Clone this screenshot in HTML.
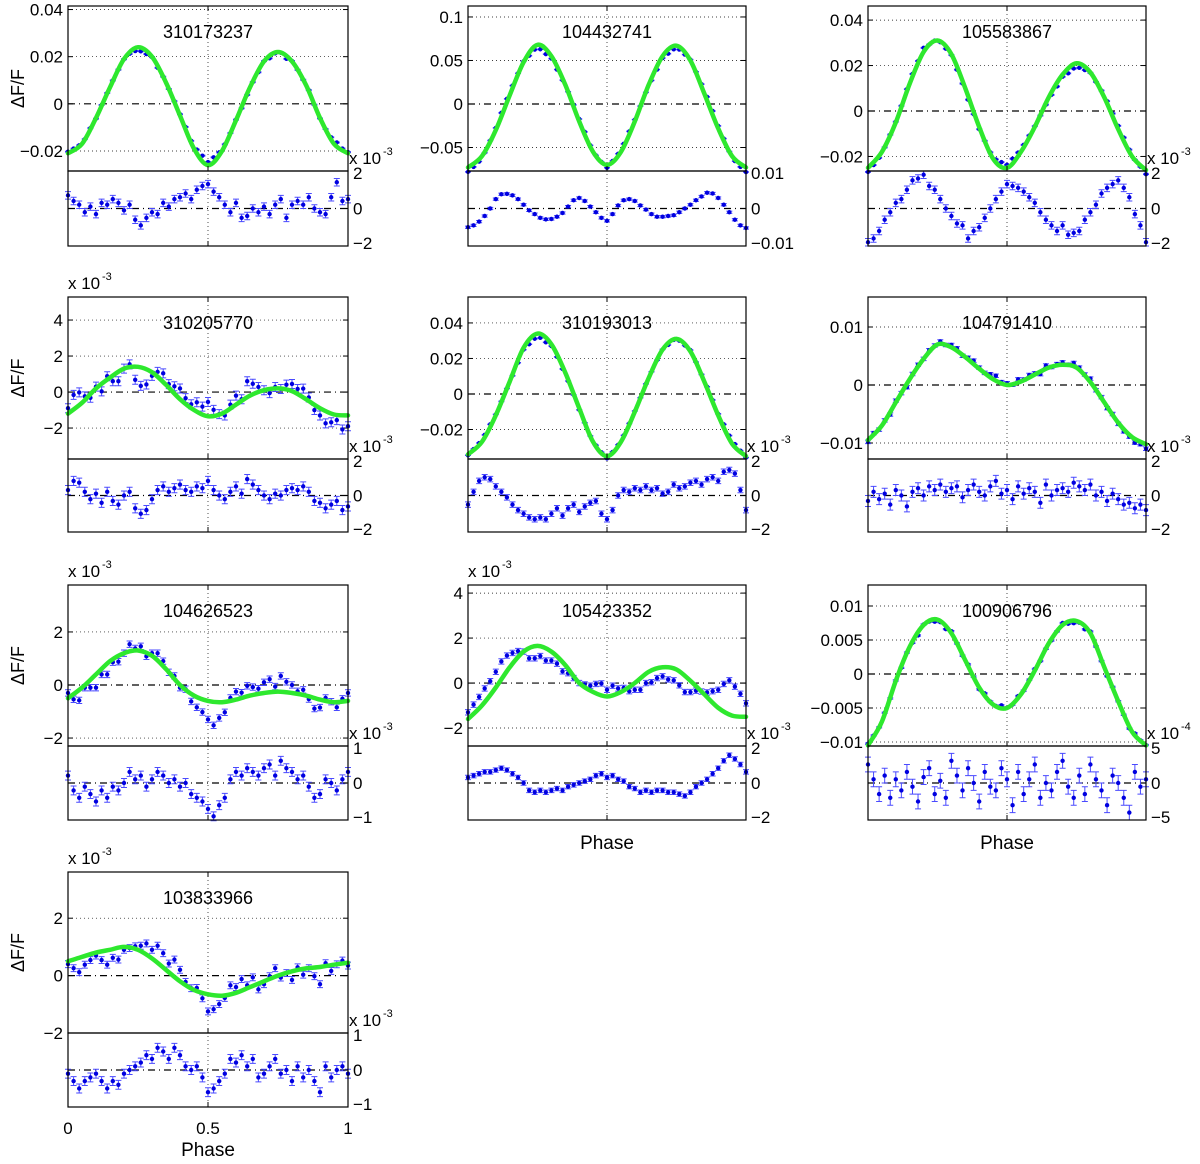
<!DOCTYPE html>
<html><head><meta charset="utf-8"><style>
html,body{margin:0;padding:0;background:#fff;}
svg text{font-family:"Liberation Sans",sans-serif;fill:#000;}
</style></head><body>
<svg id="fig" width="1200" height="1159" viewBox="0 0 1200 1159" xmlns="http://www.w3.org/2000/svg"></svg>
<script>
// ---- data ----
const titles = ["310173237","104432741","105583867","310205770","310193013","104791410","104626523","105423352","100906796","103833966"];
// fit values at phase 0,0.05,...,1 (displayed top-axis units)
const fit1 = [-0.021,-0.017,-0.006,0.007,0.019,0.024,0.020,0.009,-0.005,-0.019,-0.026,-0.020,-0.007,0.007,0.018,0.022,0.018,0.008,-0.006,-0.017,-0.021];
const fit2 = [-0.073,-0.06,-0.03,0.01,0.048,0.068,0.055,0.022,-0.02,-0.055,-0.07,-0.055,-0.02,0.022,0.055,0.067,0.05,0.012,-0.028,-0.06,-0.073];
const fit3 = [-0.025,-0.018,-0.005,0.012,0.026,0.031,0.025,0.01,-0.007,-0.021,-0.025,-0.018,-0.007,0.006,0.016,0.021,0.017,0.006,-0.008,-0.02,-0.026];
const fit4 = [-1.2,-0.6,0.2,0.8,1.3,1.4,1.1,0.4,-0.4,-1.0,-1.35,-1.2,-0.7,-0.2,0.1,0.2,0.05,-0.4,-0.9,-1.25,-1.3];
const fit5 = [-0.034,-0.027,-0.012,0.007,0.026,0.034,0.028,0.012,-0.008,-0.027,-0.035,-0.027,-0.01,0.009,0.025,0.031,0.024,0.007,-0.012,-0.028,-0.035];
const fit6 = [-0.0095,-0.007,-0.003,0.001,0.0045,0.007,0.0065,0.0048,0.0028,0.001,0.0,0.0006,0.0018,0.003,0.0035,0.003,0.0005,-0.003,-0.0065,-0.009,-0.0102];
const fit7 = [-0.5,-0.1,0.4,0.9,1.2,1.3,1.1,0.6,0.0,-0.4,-0.6,-0.65,-0.55,-0.4,-0.3,-0.25,-0.3,-0.4,-0.55,-0.65,-0.6];
const fit8 = [-1.6,-1.0,-0.2,0.7,1.4,1.65,1.4,0.8,0.0,-0.4,-0.6,-0.4,0.0,0.5,0.7,0.6,0.1,-0.5,-1.1,-1.45,-1.5];
const fit9 = [-0.0105,-0.007,-0.001,0.004,0.0072,0.008,0.006,0.002,-0.002,-0.0045,-0.005,-0.003,0.0005,0.0045,0.0072,0.0078,0.006,0.001,-0.004,-0.0085,-0.0105];
const fit10 = [0.5,0.65,0.8,0.9,1.0,0.9,0.6,0.2,-0.2,-0.5,-0.65,-0.7,-0.6,-0.4,-0.2,0.0,0.15,0.25,0.3,0.38,0.45];
// residuals at phase 0,0.02,...,1 (displayed residual-axis units)
const res1 = [0.7,0.4,0.2,-0.2,0.1,-0.3,0.3,0.2,0.5,0.3,-0.1,0.2,-0.6,-0.9,-0.5,-0.2,-0.3,0.3,0.1,0.5,0.6,0.8,0.5,1.0,1.2,1.3,0.9,0.6,0.2,-0.2,0.3,-0.5,-0.4,0.0,-0.2,0.1,-0.3,0.2,0.5,-0.5,0.2,0.4,0.2,0.6,0.0,-0.2,-0.3,0.6,1.4,0.4,0.5];
const res2 = [-5.0,-4.5,-3.5,-2,0,2.5,3.8,3.9,3.5,2.5,1,-0.5,-1.5,-2.5,-2.9,-2.8,-2.2,-1.2,0.5,2.2,2.8,2,0.5,-1,-2.5,-3.3,-1.5,0.8,2.2,2.5,2,0.8,-0.3,-1.5,-2.2,-2.2,-2,-1.8,-1,0,1,2.2,3.2,4.2,4,2.8,1,-1,-3,-4.5,-5.2];
const res3 = [-1.8,-1.6,-1.2,-0.6,-0.2,0.3,0.5,1.0,1.5,1.6,1.8,1.2,1.0,0.5,0.0,-0.4,-0.8,-0.9,-1.6,-1.2,-1.0,-0.5,0.0,0.5,0.9,1.3,1.2,1.1,0.9,0.6,0.3,-0.2,-0.6,-0.9,-1.2,-0.9,-1.4,-1.3,-1.2,-0.6,-0.2,0.2,0.8,1.1,1.3,1.5,1.1,0.6,-0.3,-0.9,-1.8];
const res4 = [0.3,0.8,0.7,0.2,-0.2,0.1,-0.4,0.2,-0.3,-0.5,0.0,0.2,-0.7,-1.0,-0.8,-0.2,0.3,0.5,0.2,0.4,0.6,0.3,0.2,0.5,0.4,0.8,0.3,0.0,-0.2,0.2,0.5,0.1,0.9,0.6,0.3,0.0,-0.2,0.1,0.0,0.3,0.4,0.3,0.5,0.2,-0.3,-0.4,-0.7,-0.5,-0.3,-0.8,-0.6];
const res5 = [-0.5,0.2,0.8,1.0,0.9,0.5,0.2,-0.1,-0.5,-0.8,-1.0,-1.2,-1.3,-1.2,-1.3,-1.0,-0.7,-1.1,-0.7,-0.5,-0.9,-0.6,-0.4,-0.3,-1.0,-1.3,-0.8,0.0,0.3,0.2,0.4,0.3,0.5,0.3,0.4,0.1,0.2,0.6,0.4,0.5,0.7,0.8,0.6,0.9,1.0,0.8,1.3,1.4,1.2,0.3,-0.8];
const res6 = [-0.3,0.2,-0.2,0.1,-0.5,0.3,0.0,-0.6,0.2,0.4,0.0,0.5,0.3,0.6,0.2,0.4,0.5,-0.1,0.3,0.6,0.2,0.0,0.5,0.8,0.1,0.3,-0.2,0.5,0.1,0.4,0.2,-0.4,0.6,0.0,0.3,0.4,0.2,0.7,0.5,0.3,0.6,0.0,0.2,-0.3,0.1,-0.2,-0.5,-0.4,-0.7,-0.5,-0.8];
const res7 = [0.2,-0.2,-0.4,-0.1,-0.3,-0.5,-0.2,-0.4,-0.1,-0.2,0.0,0.3,0.1,0.2,-0.1,0.1,0.3,0.2,0.0,0.1,-0.1,0.0,-0.3,-0.4,-0.5,-0.7,-0.9,-0.6,-0.4,0.1,0.3,0.2,0.4,0.3,0.2,0.4,0.5,0.2,0.6,0.4,0.3,0.1,0.2,-0.1,-0.4,-0.3,0.1,0.0,-0.2,0.1,0.3];
const res8 = [0.3,0.4,0.5,0.6,0.6,0.7,0.8,0.7,0.5,0.3,0.0,-0.4,-0.5,-0.4,-0.5,-0.4,-0.3,-0.4,-0.2,-0.1,0.0,0.1,0.2,0.4,0.5,0.3,0.4,0.2,0.1,-0.2,-0.3,-0.5,-0.4,-0.5,-0.4,-0.4,-0.5,-0.5,-0.6,-0.7,-0.5,-0.2,0.0,0.2,0.5,0.8,1.2,1.5,1.3,1.0,0.6];
const res9 = [2.5,0.5,-1.5,1.0,-2.0,0.5,-1.0,1.5,-0.5,-2.5,0.8,2.0,-1.5,0.3,-2.0,3.0,1.0,-1.0,2.0,0.0,-2.5,1.5,-0.5,-1.0,2.0,0.5,-3.0,1.5,-1.5,0.5,2.5,-2.0,0.0,-1.0,1.5,3.0,-0.5,-2.0,1.0,-1.5,2.5,0.5,-1.0,-3.0,1.0,0.0,-2.0,-4.0,1.5,-0.5,0.5];
const res10 = [-0.1,-0.3,-0.5,-0.3,-0.2,-0.1,-0.3,-0.5,-0.3,-0.4,-0.1,0.0,0.1,0.2,0.4,0.3,0.6,0.5,0.3,0.6,0.4,0.1,0.0,0.1,-0.2,-0.6,-0.5,-0.3,-0.1,0.3,0.2,0.4,0.1,0.3,-0.2,-0.1,0.1,0.3,-0.1,0.0,-0.3,0.1,-0.2,0.0,-0.3,-0.6,0.1,-0.2,0.0,0.1,-0.1];
const fits = [fit1,fit2,fit3,fit4,fit5,fit6,fit7,fit8,fit9,fit10];
const resids = [res1,res2,res3,res4,res5,res6,res7,res8,res9,res10];
// axis ranges
const topMin = [-0.0285,-0.077,-0.0264,-3.72,-0.0366,-0.01276,-2.30,-2.8,-0.01059,-2.0];
const topMax = [0.0415,0.1126,0.0462,5.28,0.0546,0.01517,3.77,4.36,0.01309,3.61];
const topTicks = [[-0.02,0,0.02,0.04],[-0.05,0,0.05,0.1],[-0.02,0,0.02,0.04],[-2,0,2,4],[-0.02,0,0.02,0.04],[-0.01,0,0.01],[-2,0,2],[-2,0,2,4],[-0.01,-0.005,0,0.005,0.01],[-2,0,2]];
const topTickLabels = [["−0.02","0","0.02","0.04"],["−0.05","0","0.05","0.1"],["−0.02","0","0.02","0.04"],["−2","0","2","4"],["−0.02","0","0.02","0.04"],["−0.01","0","0.01"],["−2","0","2"],["−2","0","2","4"],["−0.01","−0.005","0","0.005","0.01"],["−2","0","2"]];
const topScale = [1,1,1,1e-3,1,1,1e-3,1e-3,1,1e-3];
const resLim = [2,10,2,2,2,2,1,2,5,1];
const resScale = [1e-3,1e-3,1e-3,1e-3,1e-3,1e-3,1e-3,1e-3,1e-4,1e-3];
const resTickLabels = [["−2","0","2"],["−0.01","0","0.01"],["−2","0","2"],["−2","0","2"],["−2","0","2"],["−2","0","2"],["−1","0","1"],["−2","0","2"],["−5","0","5"],["−1","0","1"]];
const resExp = ["-3","","-3","-3","-3","-3","-3","-3","-4","-3"];
const topExp = ["","","","-3","","","-3","-3","","-3"];
const errBar = [0.2,0.3,0.2,0.25,0.15,0.3,0.12,0.12,1.0,0.12];
const xTicks = [0,0.5,1];
const xTickLabels = ["0","0.5","1"];

// ---- layout ----
const colX = [[68,348],[468,746],[868,1146]];
const rowY = [[6,171,246],[297,459,532],[585,746,820],[872,1033,1107]];
const svg = document.getElementById('fig');
const NS = "http://www.w3.org/2000/svg";
function mk(tag, attrs, parent){const e=document.createElementNS(NS,tag);for(const k in attrs)e.setAttribute(k,attrs[k]);(parent||svg).appendChild(e);return e;}
function txt(s,x,y,size,anchor,parent){const t=mk('text',{x:x,y:y,'font-size':size,'text-anchor':anchor||'start'},parent);t.textContent=s;return t;}
function catmull(pts){let d='M'+pts[0][0].toFixed(1)+','+pts[0][1].toFixed(1);for(let i=0;i<pts.length-1;i++){const p0=pts[Math.max(0,i-1)],p1=pts[i],p2=pts[i+1],p3=pts[Math.min(pts.length-1,i+2)];const c1=[p1[0]+(p2[0]-p0[0])/6,p1[1]+(p2[1]-p0[1])/6],c2=[p2[0]-(p3[0]-p1[0])/6,p2[1]-(p3[1]-p1[1])/6];d+=' C'+c1[0].toFixed(1)+','+c1[1].toFixed(1)+' '+c2[0].toFixed(1)+','+c2[1].toFixed(1)+' '+p2[0].toFixed(1)+','+p2[1].toFixed(1);}return d;}
function fitAt(f,ph){const pos=ph*(f.length-1);const i=Math.min(f.length-2,Math.floor(pos));const t=pos-i;return f[i]*(1-t)+f[i+1]*t;}

for(let p=0;p<10;p++){
  const col=p%3,row=Math.floor(p/3);
  const [x0,x1]=colX[col];const [yt,ym,yb]=rowY[row];
  const g=mk('g',{});
  
  
  const X=ph=>x0+ph*(x1-x0);
  const Y=v=>ym-(v-topMin[p])/(topMax[p]-topMin[p])*(ym-yt);
  const R=v=>yb-(v+resLim[p])/(2*resLim[p])*(yb-ym);
  // grid
  topTicks[p].forEach((v,i)=>{
    if(v!==0){const gl=mk('line',{x1:x0,x2:x1,y1:Y(v),y2:Y(v),stroke:'#000','stroke-width':0.7,'stroke-dasharray':'1,3'},g);}
    const tl=txt(topTickLabels[p][i],x0-5,Y(v)+6,17,'end',g);
    
    
    mk('line',{x1:x0,x2:x0+5,y1:Y(v),y2:Y(v),stroke:'#000'},g);
    mk('line',{x1:x1,x2:x1-5,y1:Y(v),y2:Y(v),stroke:'#000'},g);
  });
  mk('line',{x1:X(0.5),x2:X(0.5),y1:yt,y2:yb,stroke:'#000','stroke-width':0.7,'stroke-dasharray':'1,3'},g);
  // zero lines
  const z1=mk('line',{x1:x0,x2:x1,y1:Y(0),y2:Y(0),stroke:'#000','stroke-width':1.2,'stroke-dasharray':'7,4,1,4'},g);
  
  
  const z2=mk('line',{x1:x0,x2:x1,y1:R(0),y2:R(0),stroke:'#000','stroke-width':1.2,'stroke-dasharray':'7,4,1,4'},g);
  
  
  // data points
  const res=resids[p];const f=fits[p];
  const ratio=resScale[p]/topScale[p];
  const errTop=errBar[p]*ratio;
  const dg=mk('g',{},g);
  
  
  const rg=mk('g',{},g);
  
  
  res.forEach((r,i)=>{
    const ph=i/(res.length-1);
    const v=fitAt(f,ph)+r*ratio;
    const cx=X(ph);
    const ya=Y(v-errTop),yb2=Y(v+errTop);
    mk('path',{d:`M${cx},${ya}V${yb2}M${cx-3},${ya}h6M${cx-3},${yb2}h6`,stroke:'#4a4aff','stroke-width':1},dg);
    const c=mk('circle',{cx:cx,cy:Y(v),r:2.2,fill:'#0000e0'},dg);
    
    
    const ra=R(r-errBar[p]),rb=R(r+errBar[p]);
    mk('path',{d:`M${cx},${ra}V${rb}M${cx-3},${ra}h6M${cx-3},${rb}h6`,stroke:'#4a4aff','stroke-width':1},rg);
    const c2=mk('circle',{cx:cx,cy:R(r),r:2.2,fill:'#0000e0'},rg);
    
    
  });
  // fit curve
  const pts=f.map((v,i)=>[X(i/(f.length-1)),Y(v)]);
  const fc=mk('path',{d:catmull(pts),fill:'none',stroke:'#2ee82e','stroke-width':4.5,'stroke-linecap':'round'},g);
  
  
  // frames
  mk('rect',{x:x0,y:yt,width:x1-x0,height:ym-yt,fill:'none',stroke:'#000','stroke-width':1.2},g);
  mk('rect',{x:x0,y:ym,width:x1-x0,height:yb-ym,fill:'none',stroke:'#000','stroke-width':1.2},g);
  xTicks.forEach(t=>{
    mk('line',{x1:X(t),x2:X(t),y1:ym,y2:ym-5,stroke:'#000'},g);
    mk('line',{x1:X(t),x2:X(t),y1:yt,y2:yt+5,stroke:'#000'},g);
    mk('line',{x1:X(t),x2:X(t),y1:yb,y2:yb-5,stroke:'#000'},g);
  });
  // residual tick labels (right)
  [-1,0,1].forEach((s,i)=>{
    const v=s*resLim[p];
    const t=txt(resTickLabels[p][i],x1+5,R(v)+(s===1?8:(s===-1?3:6)),17,'start',g);
    
    
    mk('line',{x1:x1,x2:x1-5,y1:R(v),y2:R(v),stroke:'#000'},g);
  });
  if(resExp[p]){
    const e=txt('x 10',x1+1,ym-7,17,'start',g);
    
    
    txt(resExp[p],x1+35,ym-16,11,'start',g);
  }
  if(topExp[p]){
    const e=txt('x 10',x0,yt-8,17,'start',g);
    
    
    txt(topExp[p],x0+34,yt-17,11,'start',g);
  }
  const tt=txt(titles[p],(x0+x1)/2,yt+32,18,'middle',g);
  
  
  if(col===0){
    const yl=mk('text',{x:0,y:0,'font-size':18,'text-anchor':'middle',transform:`translate(24,${(yt+ym)/2}) rotate(-90)`},g);
    yl.textContent='ΔF/F';
    
    
  }
  if(p>=7){
    const xl=txt('Phase',(x0+x1)/2,p===9?yb+49:yb+29,19,'middle',g);
    
    
  }
  if(p===9){
    xTicks.forEach((t,i)=>{
      const l=txt(xTickLabels[i],X(t),yb+27,17,'middle',g);
      
      
    });
  }
}
</script>
</body></html>
